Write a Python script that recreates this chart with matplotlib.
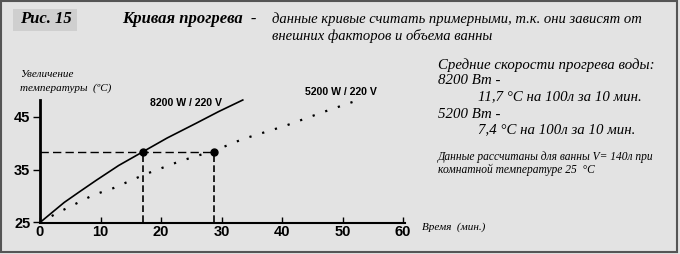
import matplotlib.pyplot as plt
from matplotlib.patches import Rectangle

# curve 8200 W (solid)
t_8200 = [0, 2, 4, 6.5, 9.3, 13, 17, 21, 25.8, 29.5, 33.5]
temp_8200 = [25, 26.9, 28.8, 30.8, 33.0, 35.8, 38.4, 41.0, 43.8, 46.0, 48.2]
# curve 5200 W (dotted)
t_5200 = [0, 3, 6, 8.8, 12.1, 17.3, 23.1, 29, 33.5, 40.5, 46.5, 52.6]
temp_5200 = [25, 26.9, 28.6, 30.2, 31.5, 34.1, 36.6, 38.7, 40.8, 43.3, 45.8, 48.2]

# marked points
mark_t = [17, 28.8]
mark_temp = [38.4, 38.4]

xticks = [0, 10, 20, 30, 40, 50, 60]
yticks = [25, 35, 45]

serif = 'Liberation Serif'
sans = 'Liberation Sans'

fig = plt.figure(figsize=(6.8, 2.54), dpi=100)
fig.patch.set_facecolor('#e3e3e3')

# frame around the picture
fig.add_artist(Rectangle((0.002, 0.006), 0.994, 0.99, transform=fig.transFigure,
                         fill=False, edgecolor='#555555', linewidth=1.5))
# "Рис. 15" box
fig.add_artist(Rectangle((13 / 680, 1 - 31 / 254), 64 / 680, 22 / 254,
                         transform=fig.transFigure, facecolor='#cfcfcf', edgecolor='none'))

ax = fig.add_axes([40 / 680, 31.5 / 254, 365 / 680, 122.5 / 254])
ax.set_facecolor('none')

ax.plot(t_8200, temp_8200, color='black', linewidth=1.2, clip_on=False)
ax.plot(t_5200, temp_5200, color='black', linewidth=1.6, linestyle=(0, (1, 5)), clip_on=False)

# dashed guides
ax.plot([0, mark_t[1]], [mark_temp[0], mark_temp[1]], color='black', linewidth=1, linestyle=(0, (6, 3)))
for t, v in zip(mark_t, mark_temp):
    ax.plot([t, t], [25, v], color='black', linewidth=1.2, linestyle=(0, (4, 2)))
ax.plot(mark_t, mark_temp, 'o', color='black', markersize=5, zorder=5)

ax.set_xlim(0, 60.3)
ax.set_ylim(25, 48.2)
ax.set_xticks(xticks)
ax.set_yticks(yticks)
ax.spines['top'].set_visible(False)
ax.spines['right'].set_visible(False)
ax.spines['left'].set_linewidth(2)
ax.spines['bottom'].set_linewidth(1.5)
ax.tick_params(axis='x', direction='in', length=4, width=1, pad=2)
ax.tick_params(axis='y', direction='out', length=5, width=1, pad=2)
for lab in ax.get_xticklabels() + ax.get_yticklabels():
    lab.set_fontfamily(sans)
    lab.set_fontweight('bold')
    lab.set_fontsize(10.5)

ax.text(0.301, 0.974, '8200 W / 220 V', transform=ax.transAxes, fontsize=7.6,
        fontweight='bold', family=sans, va='center')
ax.text(0.726, 1.065, '5200 W / 220 V', transform=ax.transAxes, fontsize=7.6,
        fontweight='bold', family=sans, va='center')

# titles
fig.text(20 / 680, 1 - 19 / 254, 'Рис. 15', fontsize=12, family=serif, style='italic',
         fontweight='bold', va='center')
fig.text(122 / 680, 1 - 19 / 254, 'Кривая прогрева  -', fontsize=12, family=serif,
         style='italic', fontweight='bold', va='center')
fig.text(272 / 680, 1 - 19 / 254, 'данные кривые считать примерными, т.к. они зависят от',
         fontsize=10.5, family=serif, style='italic', va='center')
fig.text(272 / 680, 1 - 36 / 254, 'внешних факторов и объема ванны',
         fontsize=10.5, family=serif, style='italic', va='center')

# axis labels
fig.text(20 / 680, 1 - 75 / 254, 'Увеличение', fontsize=8, family=serif, style='italic', va='center')
fig.text(20 / 680, 1 - 88 / 254, 'температуры  (ºC)', fontsize=8, family=serif, style='italic',
         va='center')
fig.text(422 / 680, 1 - 227 / 254, 'Время  (мин.)', fontsize=8, family=serif, style='italic',
         va='center')

# right side notes
notes = [
    (438, 65, 'Средние скорости прогрева воды:'),
    (438, 81, '8200 Вт -'),
    (478, 97, '11,7 °C на 100л за 10 мин.'),
    (438, 114, '5200 Вт -'),
    (478, 130, '7,4 °C на 100л за 10 мин.'),
]
for x, y, s in notes:
    fig.text(x / 680, 1 - y / 254, s, fontsize=10.7, family=serif, style='italic', va='center')
fig.text(438 / 680, 1 - 157 / 254, 'Данные рассчитаны для ванны V= 140л при',
         fontsize=8.3, family=serif, style='italic', va='center')
fig.text(438 / 680, 1 - 170 / 254, 'комнатной температуре 25  °C',
         fontsize=8.3, family=serif, style='italic', va='center')

fig.savefig('out.png', dpi=100, facecolor=fig.get_facecolor())
